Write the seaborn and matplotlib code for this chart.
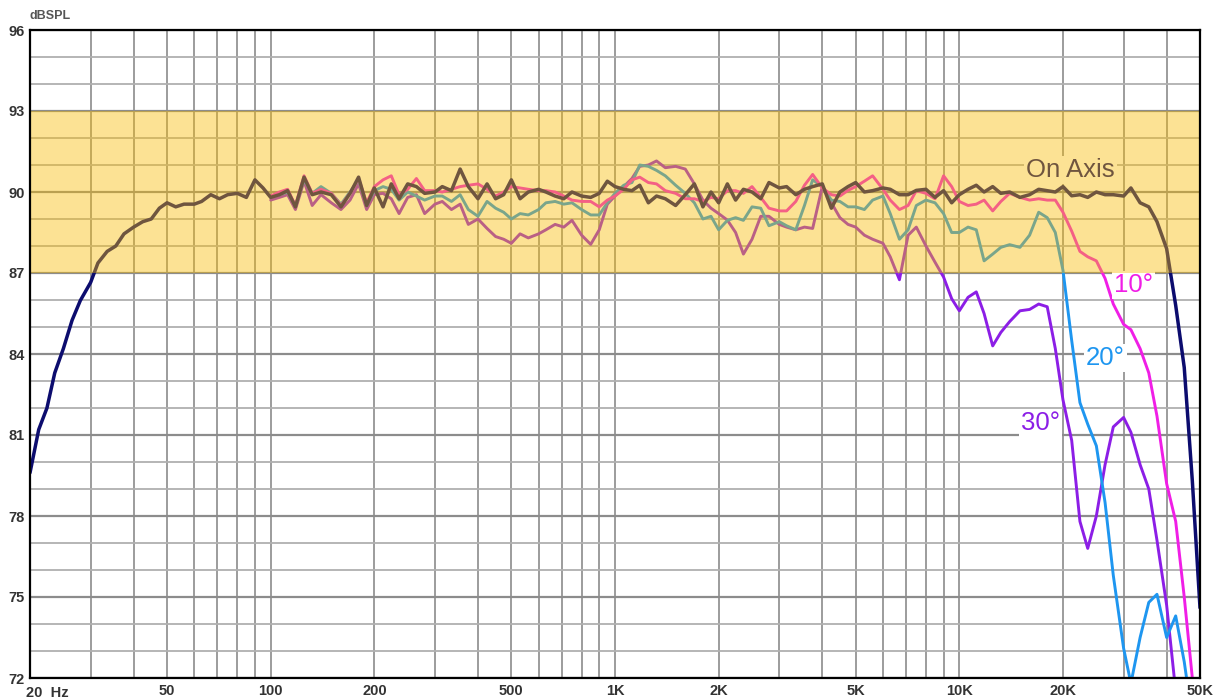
import numpy as np
import pandas as pd
import seaborn as sns
import matplotlib
matplotlib.use("Agg")
import matplotlib.pyplot as plt
from matplotlib.ticker import FixedLocator, LogLocator, MultipleLocator, NullFormatter

# frequency points (Hz)
freq_low = [20, 21.2, 22.4, 23.6, 25, 26.5, 28, 30, 31.5, 33.5,
            35.5, 37.5, 40, 42.5, 45, 47.5, 50, 53, 56, 60,
            63, 67, 71, 75, 80, 85, 90, 95]
freq_high = [100, 106, 112, 118, 125, 132, 140, 150, 160, 170,
             180, 190, 200, 212, 224, 236, 250, 265, 280, 300,
             315, 335, 355, 375, 400, 425, 450, 475, 500, 530,
             560, 600, 630, 670, 710, 750, 800, 850, 900, 950,
             1000, 1060, 1120, 1180, 1250, 1320, 1400, 1500, 1600, 1700,
             1800, 1900, 2000, 2120, 2240, 2360, 2500, 2650, 2800, 3000,
             3150, 3350, 3550, 3750, 4000, 4250, 4500, 4750, 5000, 5300,
             5600, 6000, 6300, 6700, 7100, 7500, 8000, 8500, 9000, 9500,
             10000, 10600, 11200, 11800, 12500, 13200, 14000, 15000, 16000, 17000,
             18000, 19000, 20000, 21200, 22400, 23600, 25000, 26500, 28000, 30000,
             31500, 33500, 35500, 37500, 40000, 42500, 45000, 47500, 50000]

# on axis response (dBSPL)
on_axis_low = [79.6, 81.2, 82.0, 83.3, 84.2, 85.25, 85.98, 86.65, 87.37, 87.8,
               88.0, 88.45, 88.7, 88.9, 89.0, 89.4, 89.6, 89.45, 89.55, 89.55,
               89.65, 89.9, 89.75, 89.9, 89.95, 89.8, 90.45, 90.15]
on_axis = [89.8, 89.9, 90.05, 89.45, 90.55, 89.9, 90.0, 89.9, 89.45, 89.95,
           90.55, 89.5, 90.15, 89.45, 90.3, 89.75, 90.3, 90.2, 89.95, 90.0,
           90.2, 90.05, 90.85, 90.2, 89.75, 90.3, 89.75, 89.9, 90.45, 89.75,
           90.0, 90.1, 90.0, 89.85, 89.75, 90.0, 89.85, 89.8, 89.95, 90.4,
           90.2, 90.1, 90.05, 90.25, 89.6, 89.85, 89.75, 89.5, 89.9, 90.3,
           89.45, 90.0, 89.6, 90.3, 89.7, 90.1, 90.0, 89.75, 90.35, 90.15,
           90.2, 89.9, 90.1, 90.2, 90.3, 89.4, 90.0, 90.2, 90.35, 90.0,
           90.05, 90.15, 90.1, 89.9, 89.9, 90.06, 90.1, 89.8, 90.05, 89.6,
           89.9, 90.1, 90.25, 90.0, 90.2, 89.95, 90.0, 89.8, 89.9, 90.1,
           90.05, 90.0, 90.2, 89.86, 89.9, 89.8, 90.0, 89.9, 89.9, 89.85,
           90.15, 89.6, 89.45, 88.9, 87.9, 85.8, 83.5, 79.3, 74.6]
deg10 = [89.85, 90.0, 90.1, 89.5, 90.6, 89.95, 90.1, 89.95, 89.5, 89.95,
         90.5, 89.6, 90.2, 90.45, 90.6, 89.9, 90.1, 90.5, 90.05, 90.05,
         90.0, 90.1, 90.2, 90.25, 90.3, 90.1, 89.85, 90.0, 90.2, 90.15,
         90.1, 90.05, 90.05, 90.0, 89.85, 89.7, 89.65, 89.65, 89.45, 89.7,
         89.85, 90.1, 90.45, 90.55, 90.35, 90.3, 90.05, 89.95, 89.75, 89.75,
         89.65, 89.8, 89.75, 90.05, 90.05, 89.95, 90.2, 89.8, 89.4, 89.3,
         89.3, 89.65, 90.25, 90.65, 90.15, 89.9, 89.85, 90.06, 90.2, 90.4,
         90.6, 90.1, 89.7, 89.35, 89.5, 90.05, 89.95, 89.75, 90.6, 90.2,
         89.65, 89.5, 89.55, 89.7, 89.3, 89.65, 89.95, 89.8, 89.7, 89.75,
         89.7, 89.7, 89.25, 88.55, 87.8, 87.6, 87.45, 86.8, 85.85, 85.1,
         84.9, 84.2, 83.3, 81.7, 79.2, 77.8, 75.0, 72.0, 70.0]
deg20 = [89.8, 89.9, 90.0, 89.5, 90.45, 89.95, 90.2, 89.95, 89.55, 90.0,
         90.45, 89.5, 90.05, 90.2, 90.1, 89.7, 90.0, 89.85, 89.7, 89.85,
         89.85, 89.65, 89.9, 89.35, 89.1, 89.65, 89.4, 89.25, 89.0, 89.2,
         89.15, 89.35, 89.6, 89.65, 89.55, 89.6, 89.35, 89.15, 89.15, 89.6,
         89.95, 90.25, 90.35, 91.0, 90.95, 90.8, 90.6, 90.25, 89.95, 89.6,
         89.0, 89.1, 88.6, 88.95, 89.05, 88.95, 89.45, 89.4, 88.75, 88.9,
         88.75, 88.6, 89.5, 90.45, 90.2, 89.7, 89.65, 89.45, 89.45, 89.35,
         89.7, 89.85, 89.2, 88.25, 88.6, 89.5, 89.7, 89.6, 89.2, 88.5,
         88.5, 88.7, 88.6, 87.45, 87.7, 87.95, 88.05, 87.95, 88.4, 89.25,
         89.05, 88.5, 87.1, 84.5, 82.2, 81.4, 80.6, 78.5, 75.8, 73.1,
         71.8, 73.5, 74.8, 75.1, 73.5, 74.3, 72.6, 70.5, 69.0]
deg30 = [89.7, 89.8, 89.9, 89.35, 90.4, 89.5, 89.9, 89.6, 89.35, 89.7,
         90.3, 89.35, 89.9, 89.95, 89.75, 89.2, 89.8, 89.9, 89.2, 89.55,
         89.65, 89.35, 89.55, 88.8, 89.0, 88.65, 88.35, 88.25, 88.1, 88.45,
         88.3, 88.45, 88.6, 88.8, 88.7, 88.95, 88.4, 88.06, 88.6, 89.55,
         89.85, 90.2, 90.5, 90.95, 91.0, 91.15, 90.9, 90.95, 90.85, 90.3,
         89.7, 89.4, 89.2, 88.96, 88.5, 87.7, 88.25, 89.1, 89.1, 88.8,
         88.7, 88.6, 88.7, 88.65, 90.2, 89.6, 89.05, 88.8, 88.7, 88.4,
         88.25, 88.1, 87.6, 86.75, 88.4, 88.7, 88.0, 87.4, 86.85, 86.05,
         85.6, 86.1, 86.3, 85.5, 84.3, 84.8, 85.2, 85.6, 85.65, 85.85,
         85.75, 84.2, 82.3, 80.8, 77.8, 76.8, 78.0, 79.9, 81.3, 81.65,
         81.1, 79.9, 79.0, 77.1, 74.7, 71.5, 69.0, 67.0, 66.0]

tick_hz = [50, 100, 200, 500, 1000, 2000, 5000, 10000, 20000, 50000]
tick_text = ["50", "100", "200", "500", "1K", "2K", "5K", "10K", "20K", "50K"]
band_low, band_high = 87, 93

sns.set_theme(style="white")
plt.rcParams["font.family"] = ["Liberation Sans", "DejaVu Sans"]

fig = plt.figure(figsize=(12.25, 7), dpi=100)
ax = fig.add_axes([30 / 1225, 22 / 700, 1170 / 1225, 648 / 700])
ax.set_xscale("log")

curves = [
    ("30°", freq_high, deg30, "#8c1ee6", 2.1),
    ("20°", freq_high, deg20, "#1e96f0", 2.1),
    ("10°", freq_high, deg10, "#f01ee6", 2.1),
    ("On Axis", freq_low + freq_high, on_axis_low + on_axis, "#0c0c6e", 2.5),
]
for name, hz, db, col, lw in curves:
    df = pd.DataFrame({"Hz": hz, "dB": db})
    sns.lineplot(data=df, x="Hz", y="dB", ax=ax, color=col, lw=lw,
                 zorder=3, legend=False)

ax.set_xlim(20, 50000)
ax.set_ylim(72, 96)
ax.set_xlabel("")
ax.set_ylabel("")

# grid
ax.xaxis.set_major_locator(FixedLocator(tick_hz))
ax.xaxis.set_minor_locator(LogLocator(base=10, subs=np.arange(1, 10), numticks=60))
ax.xaxis.set_minor_formatter(NullFormatter())
ax.set_xticklabels(tick_text)
ax.yaxis.set_major_locator(MultipleLocator(3))
ax.yaxis.set_minor_locator(MultipleLocator(1))
ax.set_axisbelow(True)
ax.grid(which="both", axis="x", color="#9c9c9c", lw=1.4)
ax.grid(which="major", axis="y", color="#8c8c8c", lw=1.6)
ax.grid(which="minor", axis="y", color="#b0b0b0", lw=1.3)
ax.tick_params(which="both", length=0)
for axis in ("x", "y"):
    ax.tick_params(axis=axis, pad=4, labelsize=10.5, labelcolor="#333333")
for lab in ax.get_xticklabels() + ax.get_yticklabels():
    lab.set_fontweight("bold")

for s in ax.spines.values():
    s.set_visible(True)
    s.set_color("black")
    s.set_linewidth(1.6)
    s.set_zorder(12)

# labels
lab_kw = dict(fontsize=18.5, ha="center", va="center", zorder=5,
              bbox=dict(fc="white", ec="none", pad=1.5))
ax.text(21000, 90.8, "On Axis", color="#0c0c6e", **lab_kw)
ax.text(32000, 86.55, "10°", color="#f01ee6", **lab_kw)
ax.text(26500, 83.85, "20°", color="#1e96f0", **lab_kw)
ax.text(17200, 81.45, "30°", color="#8c1ee6", **lab_kw)

# yellow tolerance band laid over everything
ax.axhspan(band_low, band_high, color="#fabc00", alpha=0.42, lw=0, zorder=10)

ax.annotate("20  Hz", xy=(20, 72), xytext=(-3, -6), textcoords="offset points",
            ha="left", va="top", fontsize=10.5, fontweight="bold",
            color="#333333", annotation_clip=False)
ax.text(0.0, 1.012, "dBSPL", transform=ax.transAxes, ha="left", va="bottom",
        fontsize=9, fontweight="bold", color="#555555")

fig.savefig("out.png", dpi=100)
